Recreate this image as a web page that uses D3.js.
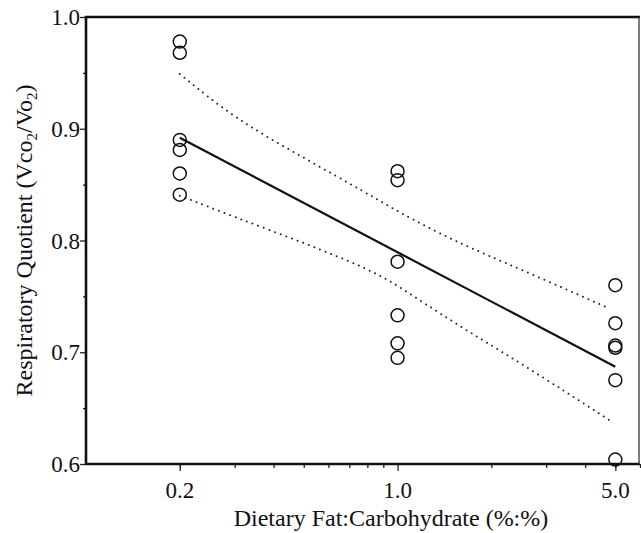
<!DOCTYPE html>
<html>
<head>
  <title> Respiratory Quotient vs Dietary Fat:Carbohydrate </title>
  <meta charset='utf-8'/>
  <style>

body {
  margin: 0;
  background: #fff;
}

text {
  font-family: "Liberation Serif", "Times New Roman", Times, serif;
  fill: #111;
}

.tick-label {
  font-size: 23px;
}

.axis-title {
  font-size: 24px;
}

.point {
  fill: none;
  stroke: #111;
  stroke-width: 1.5px;
}

.fit {
  fill: none;
  stroke: #111;
  stroke-width: 2.2px;
}

.ci {
  fill: none;
  stroke: #222;
  stroke-width: 2px;
  stroke-linecap: round;
  stroke-dasharray: 0 6;
}

</style>
  <script src="https://cdn.jsdelivr.net/npm/d3@7/dist/d3.min.js" charset="utf-8"></script>
</head>
<body>
<svg width="641" height="533"></svg>
<script>

// measured points, grouped by diet ratio
var ratios = [0.2, 1.0, 5.0];
var rq02 = [0.978, 0.968, 0.890, 0.881, 0.860, 0.841];
var rq10 = [0.862, 0.854, 0.781, 0.733, 0.708, 0.695];
var rq50 = [0.760, 0.726, 0.706, 0.704, 0.675, 0.604];

// regression line end points
var fitX = [0.2, 5.0];
var fitY = [0.892, 0.687];

// confidence band
var ciX = [0.2, 0.3, 0.5, 0.8, 1.0, 1.5, 2.5, 4.8];
var ciUpper = [0.949, 0.909, 0.874, 0.842, 0.826, 0.800, 0.774, 0.739];
var ciLower = [0.840, 0.821, 0.798, 0.775, 0.760, 0.727, 0.690, 0.639];

// axis ticks
var xMajor = [0.2, 1.0, 5.0];
var xMajorLabels = ["0.2", "1.0", "5.0"];
var xMinor = [0.2, 0.3, 0.4, 0.5, 0.6, 0.7, 0.8, 0.9, 2, 3, 4, 5, 6];
var yMajor = [0.6, 0.7, 0.8, 0.9, 1.0];
var yMinor = [0.65, 0.75, 0.85, 0.95];

var svg = d3.select("svg"),
    pLeft = 86, pRight = 640, pTop = 17, pBottom = 464;

var x = d3.scaleLog()
    .domain([0.1, 6])
    .range([pLeft, pRight]);

var y = d3.scaleLinear()
    .domain([0.6, 1.0])
    .range([pBottom, pTop]);

// minor ticks first, then the labelled ones
var gx = svg.append("g").attr("transform", "translate(0," + pBottom + ")");
gx.call(d3.axisBottom(x).tickValues(xMinor).tickSize(4).tickFormat(""));
gx.append("g").call(d3.axisBottom(x).tickValues(xMajor).tickSize(7).tickFormat(""));
gx.selectAll(".domain").remove();
gx.selectAll(".tick line").attr("stroke", "#222").attr("stroke-width", 1.3);

var gy = svg.append("g").attr("transform", "translate(" + pLeft + ",0)");
gy.call(d3.axisLeft(y).tickValues(yMinor).tickSize(3).tickFormat(""));
gy.append("g").call(d3.axisLeft(y).tickValues(yMajor).tickSize(6).tickFormat(""));
gy.selectAll(".domain").remove();
gy.selectAll(".tick line").attr("stroke", "#222").attr("stroke-width", 1.3);

svg.selectAll(".xlab")
  .data(xMajor)
  .enter().append("text")
    .attr("class", "tick-label")
    .attr("x", function(d) { return x(d); })
    .attr("y", 498)
    .attr("text-anchor", "middle")
    .text(function(d, i) { return xMajorLabels[i]; });

svg.selectAll(".ylab")
  .data(yMajor)
  .enter().append("text")
    .attr("class", "tick-label")
    .attr("x", pLeft - 6)
    .attr("y", function(d) { return y(d); })
    .attr("dy", "0.35em")
    .attr("text-anchor", "end")
    .text(function(d) { return d3.format(".1f")(d); });

// frame
svg.append("path")
    .attr("d", "M" + pRight + "," + pTop + "H" + pLeft + "V" + pBottom + "H" + pRight)
    .attr("fill", "none")
    .attr("stroke", "#111")
    .attr("stroke-width", 2.6);
svg.append("line")
    .attr("x1", pRight - 1).attr("x2", pRight - 1)
    .attr("y1", pTop).attr("y2", pBottom)
    .attr("stroke", "#444")
    .attr("stroke-width", 1.4);

// confidence band
var ciLine = d3.line()
    .x(function(d) { return x(d[0]); })
    .y(function(d) { return y(d[1]); })
    .curve(d3.curveBasis);

svg.append("path")
    .attr("class", "ci")
    .attr("d", ciLine(ciX.map(function(v, i) { return [v, ciUpper[i]]; })));
svg.append("path")
    .attr("class", "ci")
    .attr("d", ciLine(ciX.map(function(v, i) { return [v, ciLower[i]]; })));

// regression line
svg.append("line")
    .attr("class", "fit")
    .attr("x1", x(fitX[0])).attr("y1", y(fitY[0]))
    .attr("x2", x(fitX[1])).attr("y2", y(fitY[1]));

// points
var points = [];
[rq02, rq10, rq50].forEach(function(arr, i) {
  arr.forEach(function(v) { points.push({ratio: ratios[i], rq: v}); });
});

svg.selectAll(".point")
  .data(points)
  .enter().append("circle")
    .attr("class", "point")
    .attr("cx", function(d) { return x(d.ratio); })
    .attr("cy", function(d) { return y(d.rq); })
    .attr("r", 6.5);

// axis titles
svg.append("text")
    .attr("class", "axis-title")
    .attr("x", 391)
    .attr("y", 526)
    .attr("text-anchor", "middle")
    .text("Dietary Fat:Carbohydrate (%:%)");

var yt = svg.append("text")
    .attr("class", "axis-title")
    .attr("transform", "translate(32," + (pTop + pBottom) / 2 + ") rotate(-90)")
    .attr("text-anchor", "middle");
yt.append("tspan").text("Respiratory Quotient (Vco");
yt.append("tspan").attr("font-size", "15px").attr("dy", 5).text("2");
yt.append("tspan").attr("dy", -5).text("/Vo");
yt.append("tspan").attr("font-size", "15px").attr("dy", 5).text("2");
yt.append("tspan").attr("dy", -5).text(")");

</script>
</body>
</html>
